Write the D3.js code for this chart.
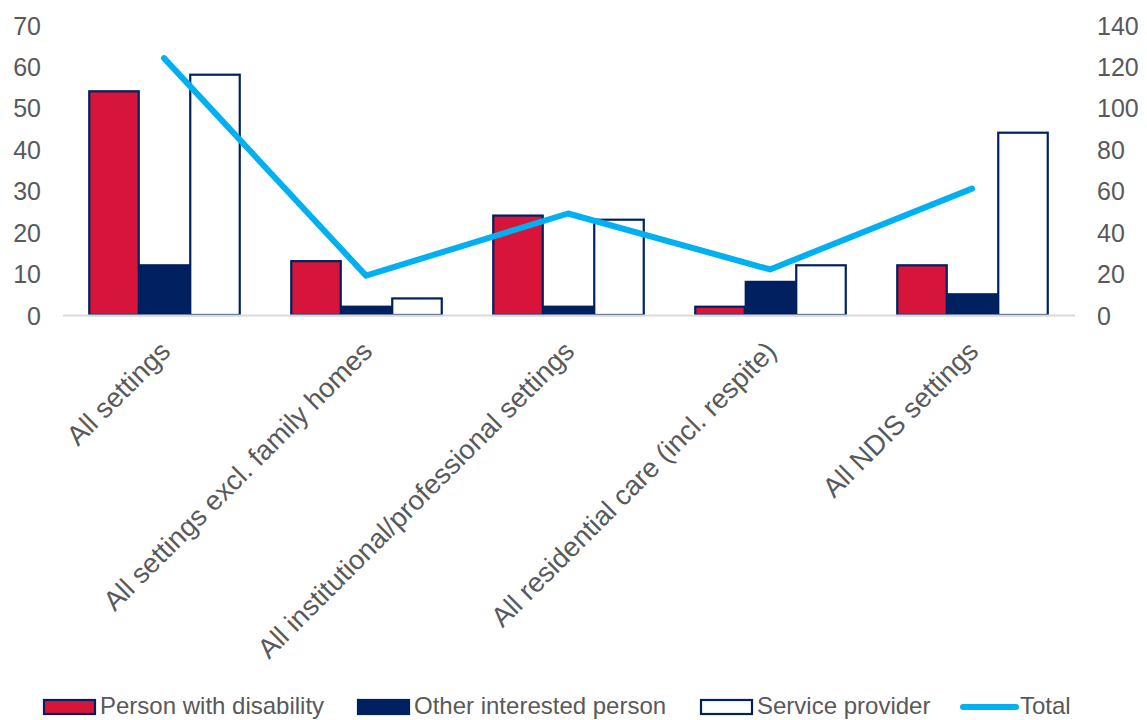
<!DOCTYPE html>
<html>
<head>
<meta charset="utf-8">
<script src="https://cdn.jsdelivr.net/npm/d3@7"></script>
<style>
  html, body { margin: 0; padding: 0; background: #fff; }
  svg { display: block; }
  text { font-family: "Liberation Sans", Arial, sans-serif; fill: #595959; }
</style>
</head>
<body>
<svg id="chart" width="1147" height="720"></svg>
<script>
// Categories and series
const categories = [
  "All settings",
  "All settings excl. family homes",
  "All institutional/professional settings",
  "All residential care (incl. respite)",
  "All NDIS settings"
];
const personWithDisability = [54, 13, 24, 2, 12];
const otherInterestedPerson = [12, 2, 2, 8, 5];
const serviceProvider = [58, 4, 23, 12, 44];
const total = [124, 19, 49, 22, 61];

const leftTicks = [0, 10, 20, 30, 40, 50, 60, 70];
const rightTicks = [0, 20, 40, 60, 80, 100, 120, 140];

const seriesNames = ["Person with disability", "Other interested person", "Service provider"];
const seriesValues = [personWithDisability, otherInterestedPerson, serviceProvider];
const seriesFill = ["#D7153A", "#002060", "#FFFFFF"];
const lineColor = "#00B0F0";
const strokeColor = "#002060";

const svg = d3.select("#chart");
const plotLeft = 63, plotRight = 1073, plotTop = 25, plotBottom = 315;

const x = d3.scaleBand().domain(categories).range([plotLeft, plotRight]).paddingInner(0.25).paddingOuter(0.125);
const xs = d3.scaleBand().domain(d3.range(seriesNames.length)).range([0, x.bandwidth()]).padding(0);
const yL = d3.scaleLinear().domain([0, 70]).range([plotBottom, plotTop]);
const yR = d3.scaleLinear().domain([0, 140]).range([plotBottom, plotTop]);

// Left axis
const axL = svg.append("g").attr("transform", `translate(${plotLeft - 22},0)`)
  .call(d3.axisLeft(yL).tickValues(leftTicks).tickSize(0).tickPadding(0));
axL.select(".domain").remove();
axL.selectAll("text").style("font-size", "25px").attr("fill", "#595959").attr("dy", "0.36em");

// Right axis
const axR = svg.append("g").attr("transform", `translate(${plotRight + 24},0)`)
  .call(d3.axisRight(yR).tickValues(rightTicks).tickSize(0).tickPadding(0));
axR.select(".domain").remove();
axR.selectAll("text").style("font-size", "25px").attr("fill", "#595959").attr("dy", "0.36em");

// Bars
const groups = svg.append("g").selectAll("g")
  .data(categories).join("g")
  .attr("transform", d => `translate(${x(d)},0)`);

groups.selectAll("rect")
  .data((d, i) => seriesValues.map((vals, s) => ({ s, v: vals[i] })))
  .join("rect")
  .attr("x", d => xs(d.s) + 1)
  .attr("width", xs.bandwidth() - 1)
  .attr("y", d => yL(d.v))
  .attr("height", d => plotBottom - yL(d.v))
  .attr("fill", d => seriesFill[d.s])
  .attr("stroke", strokeColor)
  .attr("stroke-width", 2.2);

// Category axis baseline
svg.append("line")
  .attr("x1", plotLeft).attr("x2", plotRight + 2)
  .attr("y1", plotBottom + 0.5).attr("y2", plotBottom + 0.5)
  .attr("stroke", "#D9D9D9").attr("stroke-width", 2);

// Total line on the secondary axis
const line = d3.line()
  .x((d, i) => x(categories[i]) + x.bandwidth() / 2)
  .y(d => yR(d));
svg.append("path")
  .datum(total)
  .attr("d", line)
  .attr("fill", "none")
  .attr("stroke", lineColor)
  .attr("stroke-width", 6)
  .attr("stroke-linecap", "round")
  .attr("stroke-linejoin", "round");

// Rotated category labels
svg.append("g").selectAll("text")
  .data(categories).join("text")
  .attr("transform", d => `translate(${x(d) + x.bandwidth() / 2 + 8},${plotBottom + 38}) rotate(-45)`)
  .attr("text-anchor", "end")
  .style("font-size", "27.5px")
  .text(d => d);

// Legend
const legendY = 707;
const legendItems = [
  { name: seriesNames[0], type: "rect", fill: seriesFill[0], x: 43 },
  { name: seriesNames[1], type: "rect", fill: seriesFill[1], x: 357 },
  { name: seriesNames[2], type: "rect", fill: seriesFill[2], x: 700 },
  { name: "Total", type: "line", x: 961 }
];
const lg = svg.append("g").selectAll("g").data(legendItems).join("g")
  .attr("transform", d => `translate(${d.x},${legendY})`);
lg.filter(d => d.type === "rect").append("rect")
  .attr("x", 1).attr("y", -7).attr("width", 51).attr("height", 14)
  .attr("fill", d => d.fill).attr("stroke", strokeColor).attr("stroke-width", 2.2);
lg.filter(d => d.type === "line").append("line")
  .attr("x1", 2).attr("x2", 55).attr("y1", 0).attr("y2", 0)
  .attr("stroke", lineColor).attr("stroke-width", 6).attr("stroke-linecap", "round");
lg.append("text")
  .attr("x", d => d.type === "line" ? 59 : 57)
  .attr("y", 7)
  .style("font-size", "24px")
  .text(d => d.name);
</script>
</body>
</html>
